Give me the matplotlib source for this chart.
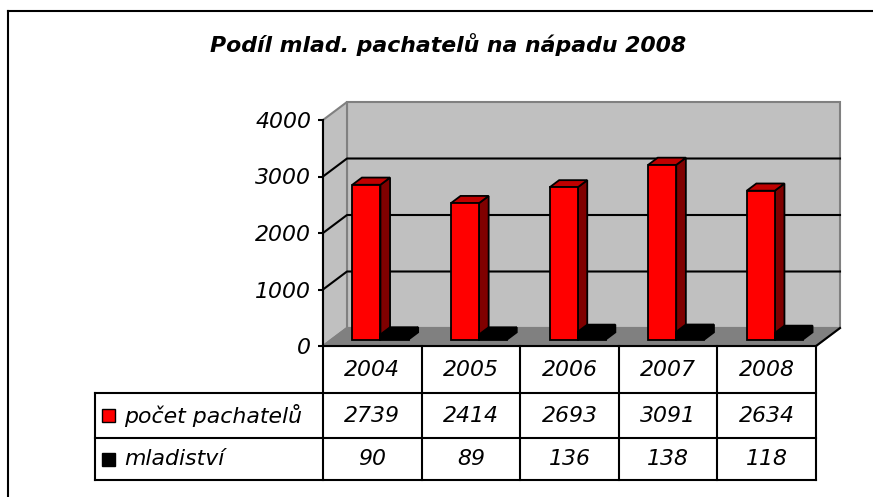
import matplotlib
matplotlib.use("Agg")
import matplotlib.pyplot as plt
from matplotlib.patches import Polygon, Rectangle
from matplotlib.lines import Line2D
from matplotlib.transforms import blended_transform_factory

# ---- data ----
years = ["2004", "2005", "2006", "2007", "2008"]
pachatelu = [2739, 2414, 2693, 3091, 2634]
mladistvi = [90, 89, 136, 138, 118]
series_names = ["počet pachatelů", "mladiství"]
series_colors = ["#FF0000", "#000000"]
top_colors = ["#C00000", "#000000"]
side_colors = ["#800000", "#000000"]
yticks = [0, 1000, 2000, 3000, 4000]
title = "Podíl mlad. pachatelů na nápadu 2008"

W, H = 873, 497
plt.rcParams['font.family'] = ['DejaVu Sans']
fig = plt.figure(figsize=(W / 100, H / 100), dpi=100)
fig.patch.set_facecolor("white")

def P(x, y):
    return (x / W, 1 - y / H)

# main plot axes (front plane)
ax_l, ax_r, ax_t, ax_b = 323, 816, 120, 346
ax = fig.add_axes([ax_l / W, 1 - ax_b / H, (ax_r - ax_l) / W, (ax_b - ax_t) / H])
ax.set_xlim(0, len(years))
ax.set_ylim(0, 4000)
ax.set_facecolor("none")
for s in ["top", "right"]:
    ax.spines[s].set_visible(False)
ax.spines["left"].set_linewidth(1.5)
ax.spines["bottom"].set_linewidth(1.5)
ax.spines["left"].set_zorder(10)
ax.spines["bottom"].set_zorder(10)
ax.set_xticks([])
ax.set_yticks(yticks)
tfs = 15.8
ax.set_yticklabels([str(v) for v in yticks], fontstyle="italic", fontsize=tfs)
ax.tick_params(axis="y", direction="out", length=3.5, width=1.5, pad=5)

n = len(years)
DX = 24 / ((ax_r - ax_l) / n)
DY = 18 / (ax_b - ax_t) * 4000
wall = "#C0C0C0"
edge = "#808080"

# back wall
ax.add_patch(Polygon([(DX, DY), (n + DX, DY), (n + DX, 4000 + DY), (DX, 4000 + DY)],
                     closed=True, fc=wall, ec=edge, lw=1.5, clip_on=False, zorder=1))
# side wall
ax.add_patch(Polygon([(0, 0), (DX, DY), (DX, 4000 + DY), (0, 4000)],
                     closed=True, fc=wall, ec=edge, lw=1.5, clip_on=False, zorder=1))
# floor
ax.add_patch(Polygon([(0, 0), (n, 0), (n + DX, DY), (DX, DY)],
                     closed=True, fc="#808080", ec=edge, lw=1.5, clip_on=False, zorder=1))
ax.add_line(Line2D([n, n + DX], [0, DY], color="black", lw=1.5, clip_on=False, zorder=2))
# gridlines
for v in yticks[1:-1]:
    ax.add_line(Line2D([0, DX, n + DX], [v, v + DY, v + DY], color="black", lw=1.5,
                       clip_on=False, zorder=2))

# bars
bw = 0.285
start = 0.21
d0, d1 = 0.36, 0.76
zo = 3
for i in range(n):
    for k, vals in enumerate([pachatelu, mladistvi]):
        v = vals[i]
        x0 = i + start + k * bw
        fl = x0 + d0 * DX
        fr = x0 + bw + d0 * DX
        bl = x0 + d1 * DX
        br = x0 + bw + d1 * DX
        y0 = d0 * DY
        y1 = d1 * DY
        front = [(fl, y0), (fr, y0), (fr, v + y0), (fl, v + y0)]
        top = [(fl, v + y0), (fr, v + y0), (br, v + y1), (bl, v + y1)]
        side = [(fr, y0), (br, y1), (br, v + y1), (fr, v + y0)]
        for poly, c in [(side, side_colors[k]), (top, top_colors[k]), (front, series_colors[k])]:
            ax.add_patch(Polygon(poly, closed=True, fc=c, ec="black", lw=1.3,
                                 joinstyle="miter", clip_on=False, zorder=zo))
        zo += 1

# ---- data table ----
tr = blended_transform_factory(ax.transData, fig.transFigure)
row_y = [346, 393, 438, 480]
lab_left = 95
fy = lambda y: 1 - y / H
# vertical column lines
for c in range(n + 1):
    fig.add_artist(Line2D([c, c], [fy(row_y[0]), fy(row_y[3])], transform=tr,
                          color="black", lw=1.5))
# horizontal lines
for ry in row_y[1:]:
    fig.add_artist(Line2D([lab_left / W, ax_r / W], [fy(ry), fy(ry)],
                          transform=fig.transFigure, color="black", lw=1.5))
fig.add_artist(Line2D([lab_left / W, lab_left / W], [fy(row_y[1]), fy(row_y[3])],
                      transform=fig.transFigure, color="black", lw=1.5))

for i in range(n):
    fig.text(i + 0.5, fy((row_y[0] + row_y[1]) / 2), years[i], transform=tr,
             ha="center", va="center", fontsize=tfs, fontstyle="italic")
    fig.text(i + 0.5, fy((row_y[1] + row_y[2]) / 2), str(pachatelu[i]), transform=tr,
             ha="center", va="center", fontsize=tfs, fontstyle="italic")
    fig.text(i + 0.5, fy((row_y[2] + row_y[3]) / 2), str(mladistvi[i]), transform=tr,
             ha="center", va="center", fontsize=tfs, fontstyle="italic")

for k, name in enumerate(series_names):
    yc = (row_y[1 + k] + row_y[2 + k]) / 2
    fig.add_artist(Rectangle(P(102, yc + 6.5), 13 / W, 13 / H, transform=fig.transFigure,
                             fc=series_colors[k], ec="black", lw=1))
    fig.text(124 / W, fy(yc), name, ha="left", va="center", fontsize=tfs,
             fontstyle="italic")

# title
fig.text(448 / W, fy(52), title, ha="center", va="baseline", fontsize=15.8,
         fontweight="bold", fontstyle="italic")

# outer border (top and left)
fig.add_artist(Line2D([8 / W, 8 / W], [0, fy(11)], transform=fig.transFigure,
                      color="black", lw=1.5))
fig.add_artist(Line2D([8 / W, 1], [fy(11), fy(11)], transform=fig.transFigure,
                      color="black", lw=1.5))

fig.savefig("out.png", dpi=100)
